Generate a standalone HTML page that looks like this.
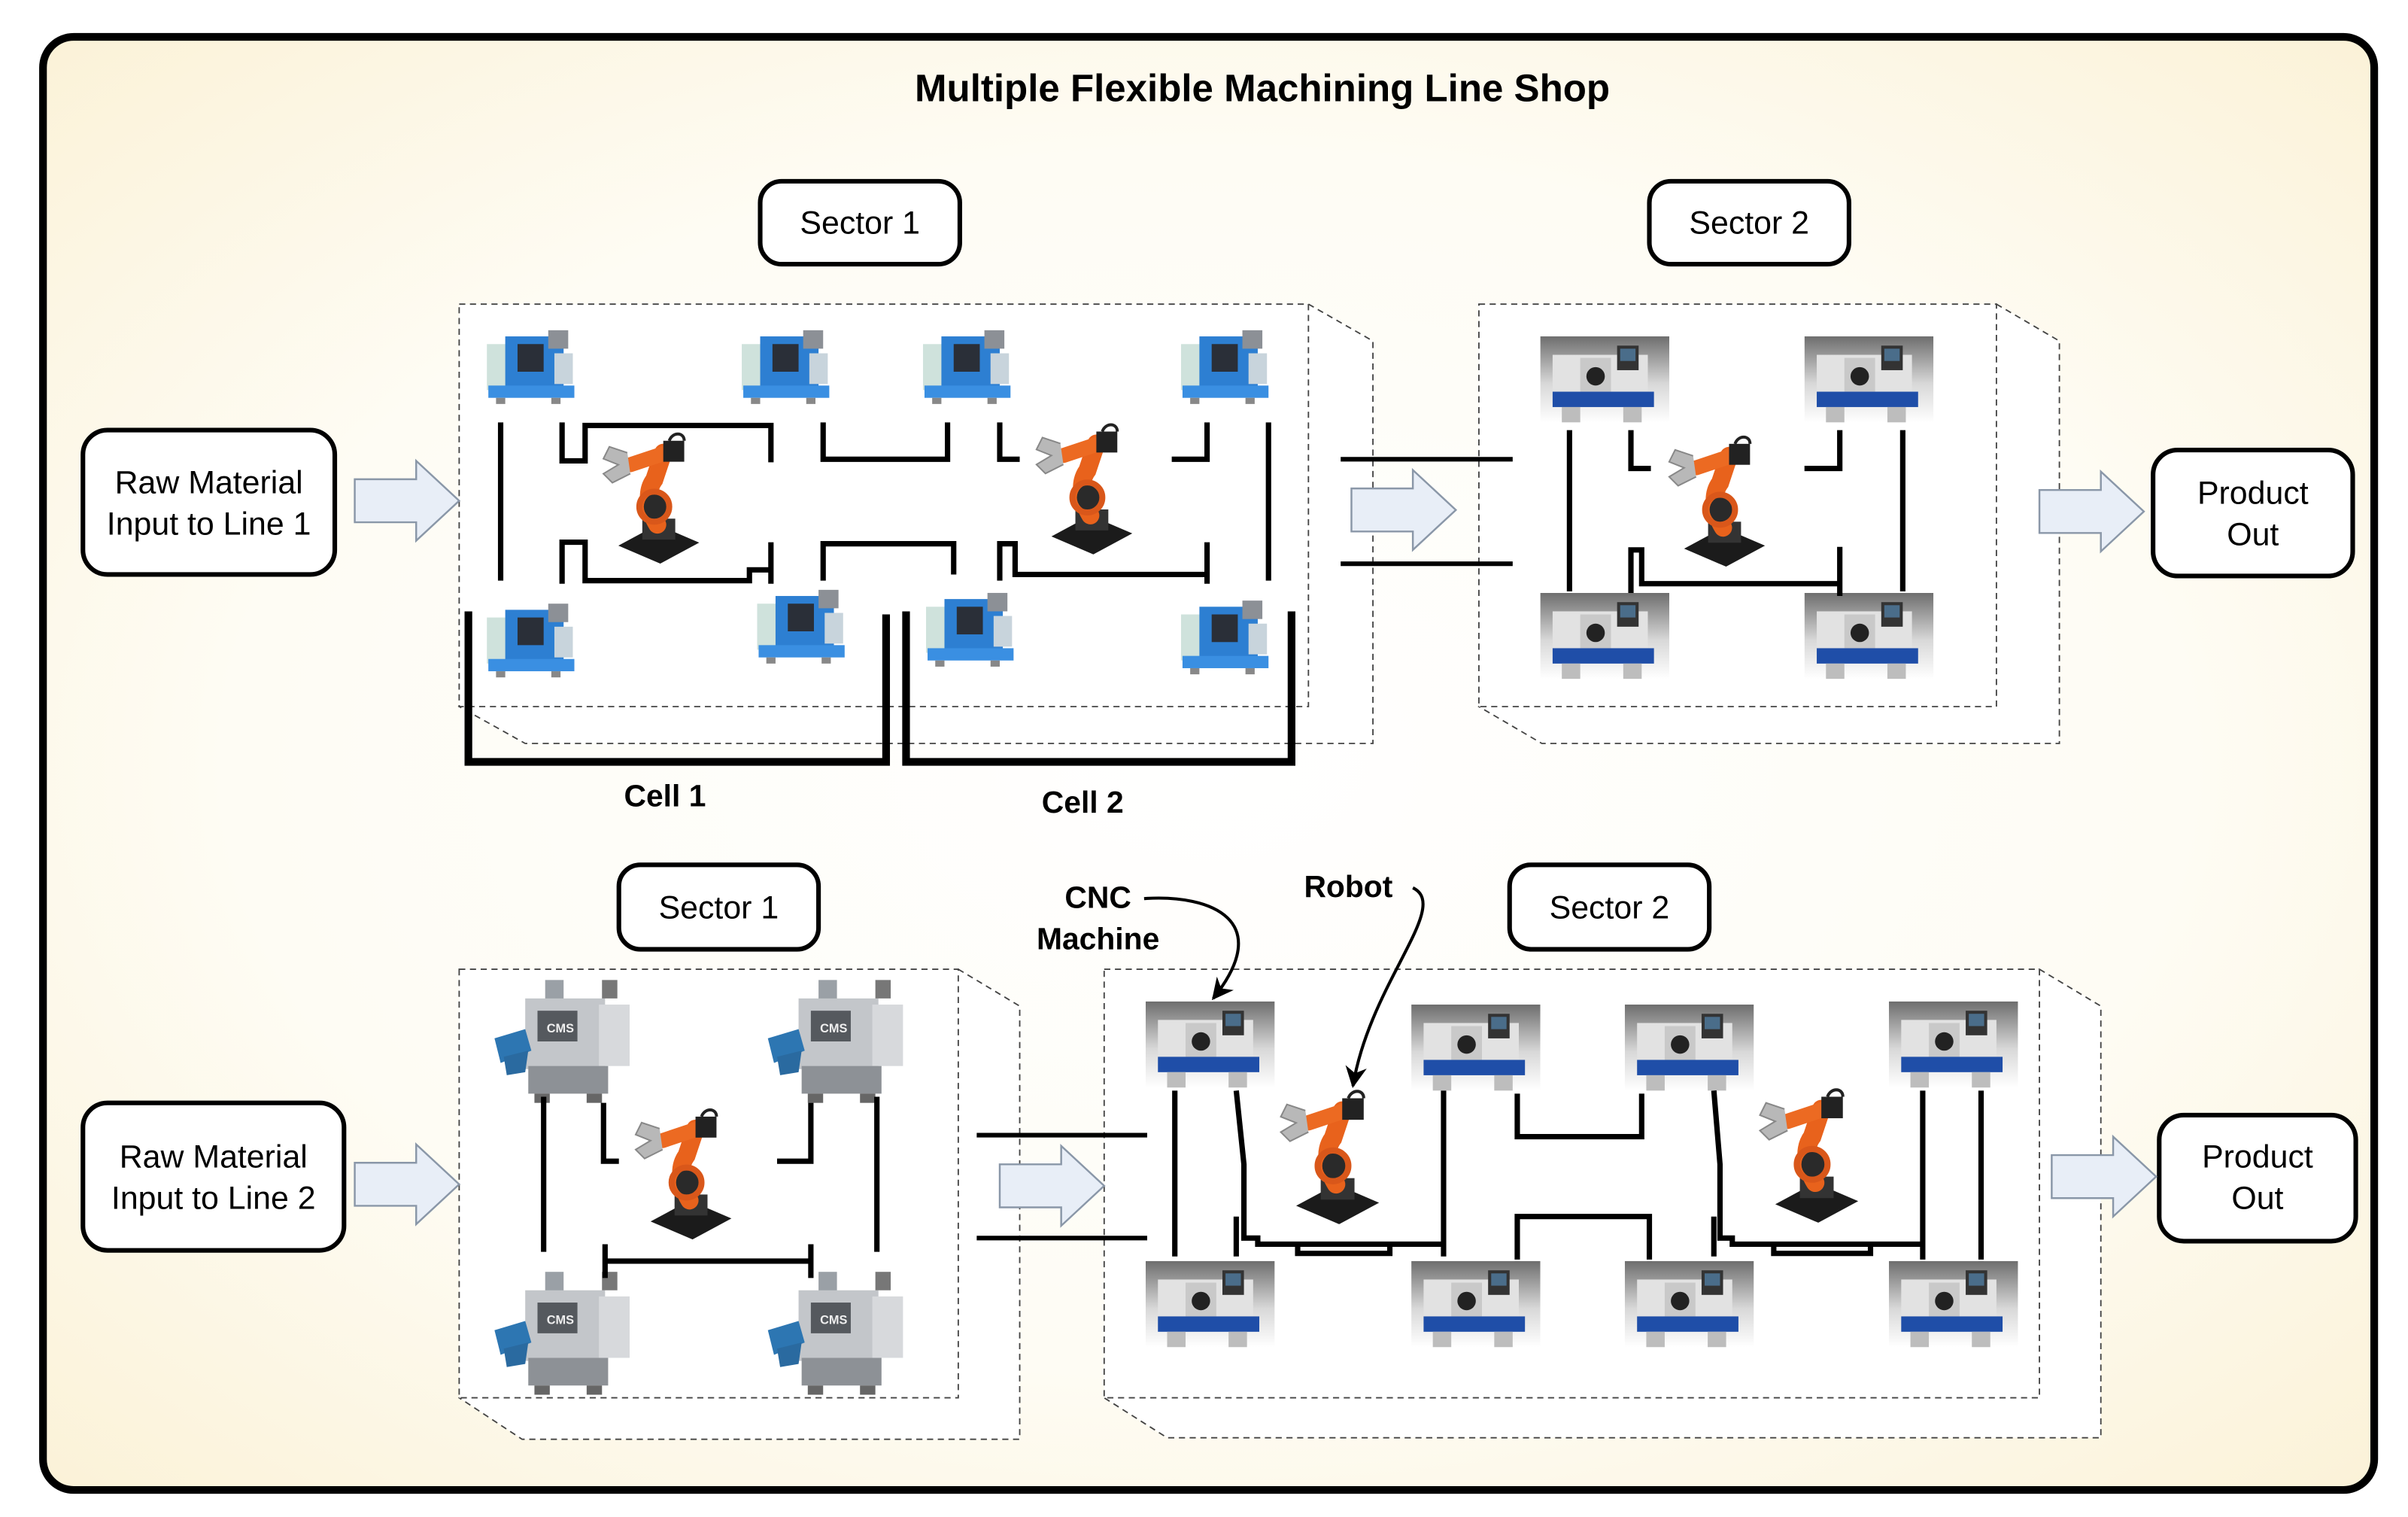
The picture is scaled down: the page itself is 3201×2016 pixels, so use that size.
<!DOCTYPE html>
<html><head><meta charset="utf-8"><style>
html,body{margin:0;padding:0;background:#fff;}
svg{display:block;}
text{font-family:"Liberation Sans",Arial,sans-serif;}
</style></head><body>
<svg width="3201" height="2016" viewBox="0 0 1568 987.6" preserveAspectRatio="none" xmlns="http://www.w3.org/2000/svg">
<defs>
<radialGradient id="bg" cx="50%" cy="50%" r="70%">
<stop offset="0" stop-color="#ffffff"/><stop offset="0.6" stop-color="#fefcf4"/><stop offset="1" stop-color="#fbf2d8"/>
</radialGradient>
<linearGradient id="gg" x1="0" y1="0" x2="0" y2="1">
<stop offset="0" stop-color="#6e6e6e"/><stop offset="0.55" stop-color="#d8d8d8"/><stop offset="1" stop-color="#ffffff"/>
</linearGradient>
<symbol id="lathe" viewBox="0 0 62 50">
<rect x="0" y="10" width="16" height="30" fill="#cfe2dc"/>
<rect x="12" y="5" width="38" height="33" fill="#2d7fd2"/>
<rect x="20" y="10" width="17" height="18" fill="#2a2f38"/>
<rect x="40" y="1" width="13" height="12" fill="#8c9096"/>
<rect x="44" y="16" width="12" height="20" fill="#c8d4dc"/>
<rect x="1" y="37" width="56" height="8" fill="#3a8fe2"/>
<rect x="6" y="45" width="6" height="4" fill="#888"/><rect x="42" y="45" width="6" height="4" fill="#888"/>
</symbol>
<symbol id="cnc" viewBox="0 0 84 56">
<rect x="0" y="0" width="84" height="56" fill="url(#gg)"/>
<rect x="8" y="12" width="62" height="26" fill="#e2e2e2"/>
<rect x="26" y="14" width="20" height="22" fill="#c9c9c9"/>
<circle cx="36" cy="26" r="6" fill="#222"/>
<rect x="50" y="6" width="14" height="16" fill="#333"/>
<rect x="52" y="8" width="10" height="8" fill="#4a6d8a"/>
<rect x="8" y="36" width="66" height="10" fill="#1f4ea8"/>
<rect x="14" y="46" width="12" height="10" fill="#bdbdbd"/><rect x="54" y="46" width="12" height="10" fill="#bdbdbd"/>
</symbol>
<symbol id="cms" viewBox="0 0 95 85">
<rect x="35" y="2" width="12" height="14" fill="#9aa0a6"/>
<rect x="22" y="14" width="52" height="46" fill="#c3c6ca"/>
<rect x="30" y="22" width="26" height="20" fill="#55595e"/>
<text x="36" y="36" font-size="8" font-weight="bold" fill="#eee">CMS</text>
<rect x="70" y="18" width="20" height="40" fill="#d7d9dc"/>
<rect x="72" y="2" width="10" height="12" fill="#777"/>
<path d="M2 40 L22 34 L26 48 L6 56 Z" fill="#2d76b2"/>
<path d="M8 52 L24 48 L22 62 L10 64 Z" fill="#2a6aa0"/>
<rect x="24" y="58" width="52" height="18" fill="#8d9196"/>
<rect x="28" y="76" width="10" height="6" fill="#666"/><rect x="62" y="76" width="10" height="6" fill="#666"/>
</symbol>
<symbol id="robot" viewBox="0 0 80 88">
<polygon points="40,62 68,74 42,88 14,76" fill="#1b1b1b"/>
<rect x="30" y="58" width="22" height="14" fill="#333"/>
<path d="M40 62 C34 52 32 40 38 32 L44 14" stroke="#e8621c" stroke-width="12" fill="none" stroke-linecap="round"/>
<circle cx="40" cy="50" r="9" fill="#2a2a2a"/>
<circle cx="38" cy="50" r="10" fill="none" stroke="#d9571a" stroke-width="4"/>
<path d="M46 14 L22 22" stroke="#ec6a22" stroke-width="10" stroke-linecap="round"/>
<rect x="44" y="6" width="14" height="14" fill="#222"/>
<path d="M48 6 C50 0 58 0 58 6" stroke="#222" stroke-width="2" fill="none"/>
<path d="M20 14 L8 10 L4 18 L14 22 L4 28 L10 34 L22 28" fill="#b8b8b8" stroke="#888" stroke-width="1"/>
</symbol>
<marker id="ah" viewBox="0 0 10 10" refX="9" refY="5" markerWidth="7" markerHeight="7" orient="auto">
<path d="M0,0 L10,5 L0,10 L3,5 Z" fill="#000"/>
</marker>
<g id="blk">
<path d="M0,12 H40 V0 L68,26 L40,52 V40 H0 Z" fill="#e8eef7" stroke="#8a97a8" stroke-width="1.2"/>
</g>
</defs>

<rect x="28" y="24" width="1518" height="946" rx="20" fill="url(#bg)" stroke="#000" stroke-width="5"/>
<text x="822" y="66" font-size="25" font-weight="bold" text-anchor="middle">Multiple Flexible Machining Line Shop</text>

<g fill="#fff" stroke="#444" stroke-width="0.9" stroke-dasharray="4,3">
<path d="M852,198 L894,222 V484 H342 L299,460 Z"/>
<rect x="299" y="198" width="553" height="262"/>
<path d="M1300,198 L1341,222 V484 H1004 L963,460 Z"/>
<rect x="963" y="198" width="337" height="262"/>
<path d="M624,631 L664,655 V937 H340 L299,910 Z"/>
<rect x="299" y="631" width="325" height="279"/>
<path d="M1328,631 L1368,655 V936 H760 L719,910 Z"/>
<rect x="719" y="631" width="609" height="279"/>
</g>

<g fill="#fff" stroke="#000" stroke-width="3">
<rect x="495" y="118" width="130" height="54" rx="14"/>
<rect x="1074" y="118" width="130" height="54" rx="14"/>
<rect x="403" y="563" width="130" height="55" rx="14"/>
<rect x="983" y="563" width="130" height="55" rx="14"/>
<rect x="54" y="280" width="164" height="94" rx="16"/>
<rect x="54" y="718" width="170" height="96" rx="16"/>
<rect x="1402" y="293" width="130" height="82" rx="16"/>
<rect x="1406" y="726" width="128" height="82" rx="16"/>
</g>
<g font-size="21" text-anchor="middle">
<text x="560" y="152">Sector 1</text>
<text x="1139" y="152">Sector 2</text>
<text x="468" y="598">Sector 1</text>
<text x="1048" y="598">Sector 2</text>
<text x="136" y="321">Raw Material</text><text x="136" y="348">Input to Line 1</text>
<text x="139" y="760">Raw Material</text><text x="139" y="787">Input to Line 2</text>
<text x="1467" y="328">Product</text><text x="1467" y="355">Out</text>
<text x="1470" y="760">Product</text><text x="1470" y="787">Out</text>
</g>

<use href="#blk" x="231" y="300"/>
<use href="#blk" x="880" y="306"/>
<use href="#blk" x="1328" y="307"/>
<use href="#blk" x="231" y="745"/>
<use href="#blk" x="651" y="746"/>
<use href="#blk" x="1336" y="740"/>

<g stroke="#000" stroke-width="3" fill="none">
<path d="M873,299 H985 M873,367 H985 M636,739 H747 M636,806 H747"/>
</g>

<use href="#lathe" x="317" y="214" width="62" height="50"/>
<use href="#lathe" x="483" y="214" width="62" height="50"/>
<use href="#lathe" x="601" y="214" width="62" height="50"/>
<use href="#lathe" x="769" y="214" width="62" height="50"/>
<use href="#lathe" x="317" y="392" width="62" height="50"/>
<use href="#lathe" x="493" y="383" width="62" height="50"/>
<use href="#lathe" x="603" y="385" width="62" height="50"/>
<use href="#lathe" x="769" y="390" width="62" height="50"/>
<use href="#robot" x="389" y="280" width="78" height="88"/>
<use href="#robot" x="671" y="274" width="78" height="88"/>

<g stroke="#000" stroke-width="3.5" fill="none">
<path d="M326,275 V378"/>
<path d="M366,275 V300 H381 V277 H502 V301"/>
<path d="M366,380 V353 H381 V378 H488 V371 H502 M502,353 V380"/>
<path d="M536,275 V299 H617 V275"/>
<path d="M536,378 V354 H621 V374"/>
<path d="M651,275 V299 H664 M763,299 H786 V275"/>
<path d="M651,378 V354 H661 V374 H786 M786,353 V380"/>
<path d="M826,275 V378"/>
</g>
<g stroke="#000" stroke-width="5" fill="none">
<path d="M305,398 V496 H577 V400"/>
<path d="M590,398 V496 H841 V398"/>
</g>
<text x="433" y="525" font-size="20" font-weight="bold" text-anchor="middle">Cell 1</text>
<text x="705" y="529" font-size="20" font-weight="bold" text-anchor="middle">Cell 2</text>

<use href="#cnc" x="1003" y="219" width="84" height="56"/>
<use href="#cnc" x="1175" y="219" width="84" height="56"/>
<use href="#cnc" x="1003" y="386" width="84" height="56"/>
<use href="#cnc" x="1175" y="386" width="84" height="56"/>
<use href="#robot" x="1083" y="282" width="78" height="88"/>
<g stroke="#000" stroke-width="3.5" fill="none">
<path d="M1022,280 V385 M1239,280 V385"/>
<path d="M1062,280 V305 H1075 M1175,305 H1198 V280"/>
<path d="M1062,386 V358 H1069 V380 H1198 M1198,356 V388"/>
</g>

<use href="#cms" x="320" y="636" width="95" height="85"/>
<use href="#cms" x="498" y="636" width="95" height="85"/>
<use href="#cms" x="320" y="826" width="95" height="85"/>
<use href="#cms" x="498" y="826" width="95" height="85"/>
<use href="#robot" x="410" y="720" width="78" height="88"/>
<g stroke="#000" stroke-width="3.5" fill="none">
<path d="M354,714 V815 M571,714 V815"/>
<path d="M393,718 V756 H403 M506,756 H528 V718"/>
<path d="M394,821 H528 M394,810 V832 M528,810 V832"/>
</g>

<use href="#cnc" x="746" y="651" width="84" height="58"/>
<use href="#cnc" x="919" y="653" width="84" height="58"/>
<use href="#cnc" x="1058" y="653" width="84" height="58"/>
<use href="#cnc" x="1230" y="651" width="84" height="58"/>
<use href="#cnc" x="746" y="820" width="84" height="58"/>
<use href="#cnc" x="919" y="820" width="84" height="58"/>
<use href="#cnc" x="1058" y="820" width="84" height="58"/>
<use href="#cnc" x="1230" y="820" width="84" height="58"/>
<use href="#robot" x="830" y="709" width="80" height="88"/>
<use href="#robot" x="1142" y="708" width="80" height="88"/>
<g stroke="#000" stroke-width="3.5" fill="none">
<path d="M765,710 V818"/>
<path d="M805,710 L810,758 V806 H819 V810 H940 M805,792 V818"/>
<path d="M845,810 V816 H905 V810"/>
<path d="M940,710 V818"/>
<path d="M988,712 V740 H1069 V712"/>
<path d="M988,820 V792 H1074 V820"/>
<path d="M1116,710 L1120,758 V806 H1128 V810 H1252 M1116,792 V818"/>
<path d="M1155,810 V816 H1218 V810"/>
<path d="M1252,710 V820 M1290,710 V820"/>
</g>

<text x="715" y="591" font-size="20" font-weight="bold" text-anchor="middle">CNC</text>
<text x="715" y="618" font-size="20" font-weight="bold" text-anchor="middle">Machine</text>
<text x="878" y="584" font-size="20" font-weight="bold" text-anchor="middle">Robot</text>
<g stroke="#000" stroke-width="2" fill="none">
<path d="M745,585 C790,582 830,600 790,650" marker-end="url(#ah)"/>
<path d="M920,578 C945,590 892,640 881,707" marker-end="url(#ah)"/>
</g>
</svg>
</body></html>
